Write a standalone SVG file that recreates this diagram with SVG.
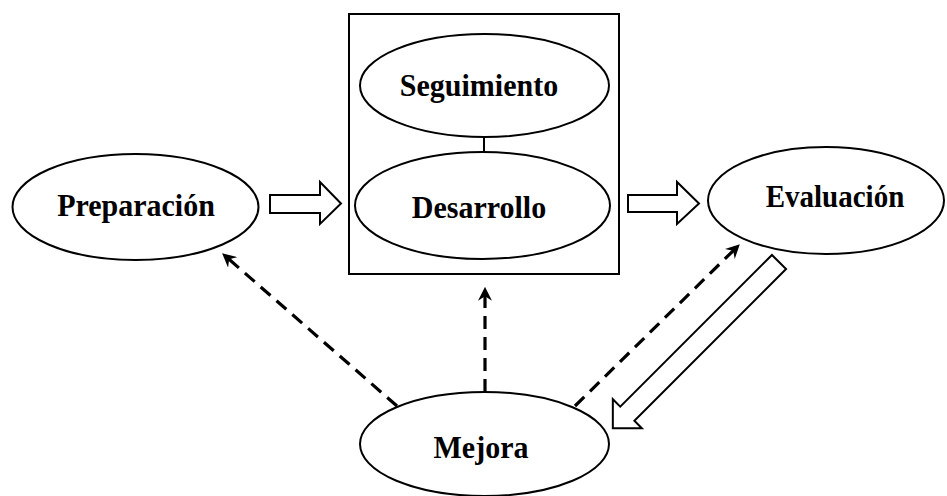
<svg xmlns="http://www.w3.org/2000/svg" width="947" height="496" viewBox="0 0 947 496">
<style>
.node{fill:#fff;stroke:#000;stroke-width:2}
.lbl{font-family:"Liberation Serif","Times New Roman",serif;font-weight:bold;font-size:30px;fill:#000;text-anchor:middle}
.dash{fill:none;stroke:#000;stroke-width:3.2;stroke-dasharray:13 8}
.hollow{fill:#fff;stroke:#000;stroke-width:2;stroke-linejoin:miter}
</style>
<defs>
<marker id="ah" viewBox="0 0 12 12" refX="11" refY="6" markerWidth="14" markerHeight="14" markerUnits="userSpaceOnUse" orient="auto">
<path d="M0,0 L12,6 L0,12 L4,6 z" fill="#000"/>
</marker>
</defs>
<rect width="947" height="496" fill="#fff"/>
<g id="desarrollo-box">
<rect class="node" x="349" y="14" width="270" height="260" fill="none"/>
</g>
<g id="connectors">
<line x1="484" y1="137" x2="484" y2="152" stroke="#000" stroke-width="2"/>
<polygon class="hollow" points="270,195 320,195 320,182 341,203.5 320,224 320,213 270,213"/>
<polygon class="hollow" points="628,195 677,195 677,182 699,203.5 677,224 677,212 628,212"/>
<polygon class="hollow" transform="translate(779,262) rotate(135)" points="0,-10 214.5,-10 214.5,-20.5 235,0 214.5,20.5 214.5,10 0,10"/>
<line class="dash" x1="397" y1="406" x2="223" y2="254" marker-end="url(#ah)"/>
<line class="dash" x1="485" y1="392" x2="485" y2="288" marker-end="url(#ah)"/>
<line class="dash" x1="575" y1="406" x2="739" y2="245" marker-end="url(#ah)"/>
</g>
<g id="preparacion">
<ellipse class="node" cx="135.5" cy="207" rx="123" ry="53"/>
<text class="lbl" transform="translate(136,216) scale(1,1.08)">Preparación</text>
</g>
<g id="seguimiento">
<ellipse class="node" cx="484.5" cy="85.5" rx="124.5" ry="51.5"/>
<text class="lbl" transform="translate(479,96) scale(1,1.08)">Seguimiento</text>
</g>
<g id="desarrollo">
<ellipse class="node" cx="482.5" cy="205.5" rx="127.5" ry="53.5"/>
<text class="lbl" transform="translate(479,218) scale(1,1.08)">Desarrollo</text>
</g>
<g id="evaluacion">
<ellipse class="node" cx="826" cy="200.5" rx="118" ry="53.5"/>
<text class="lbl" style="font-size:29px" transform="translate(835,207) scale(1,1.08)">Evaluación</text>
</g>
<g id="mejora">
<ellipse class="node" cx="484.5" cy="444" rx="124.5" ry="52"/>
<text class="lbl" transform="translate(481,458) scale(1,1.08)">Mejora</text>
</g>
</svg>
